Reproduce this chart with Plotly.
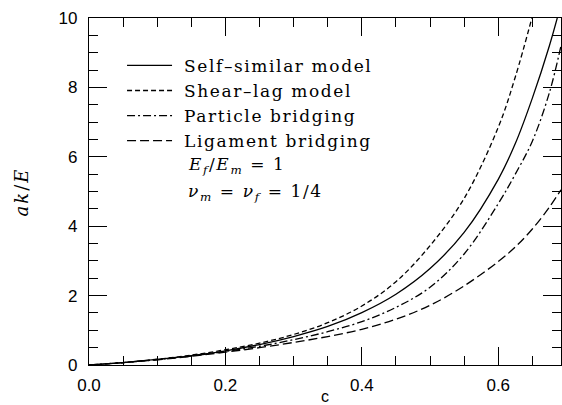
import plotly.graph_objects as go

c = [0, 0.05, 0.1, 0.15, 0.2, 0.25, 0.3, 0.35, 0.4, 0.45, 0.5, 0.55, 0.6, 0.625, 0.65, 0.675, 0.692]
self_similar = [0, 0.07, 0.16, 0.27, 0.41, 0.59, 0.82, 1.11, 1.51, 2.04, 2.78, 3.82, 5.35, 6.38, 7.69, 9.2, 10.4]
c_shear = [0, 0.05, 0.1, 0.15, 0.2, 0.25, 0.3, 0.35, 0.4, 0.45, 0.5, 0.55, 0.6, 0.625, 0.65]
shear_lag = [0, 0.07, 0.165, 0.285, 0.44, 0.63, 0.88, 1.22, 1.70, 2.40, 3.44, 4.80, 6.85, 8.3, 10.05]
particle = [0, 0.07, 0.155, 0.26, 0.39, 0.54, 0.73, 0.96, 1.25, 1.66, 2.24, 3.2, 4.65, 5.5, 6.45, 7.85, 9.2]
ligament = [0, 0.07, 0.15, 0.25, 0.37, 0.50, 0.65, 0.82, 1.03, 1.32, 1.72, 2.28, 2.98, 3.4, 3.92, 4.55, 5.05]

names = ["Self\u2013similar model", "Shear\u2013lag model", "Particle bridging", "Ligament bridging"]
LS = "letter-spacing:1.6px"

def spaced(t, ls=LS):
    return '<span style="%s">%s</span>' % (ls, t)

fig = go.Figure()
fig.add_trace(go.Scatter(x=c, y=self_similar, mode="lines", name=spaced("\u00a0" + names[0]),
                         line=dict(color="black", width=1.3, shape="spline")))
fig.add_trace(go.Scatter(x=c_shear, y=shear_lag, mode="lines", name=spaced("\u00a0" + names[1]),
                         line=dict(color="black", width=1.3, dash="5px,3px", shape="spline")))
fig.add_trace(go.Scatter(x=c, y=particle, mode="lines", name=spaced("\u00a0" + names[2]),
                         line=dict(color="black", width=1.3, dash="8px,3px,2px,3px", shape="spline")))
fig.add_trace(go.Scatter(x=c, y=ligament, mode="lines", name=spaced("\u00a0" + names[3]),
                         line=dict(color="black", width=1.3, dash="9px,4px", shape="spline")))

serif = "DejaVu Serif"
sans = "Liberation Sans"

fig.update_layout(
    width=562, height=405,
    margin=dict(l=89, r=1, t=18, b=40),
    paper_bgcolor="white", plot_bgcolor="white",
    showlegend=True,
    legend=dict(x=0.07, y=0.914, xanchor="left", yanchor="top",
                bgcolor="rgba(0,0,0,0)", font=dict(family=serif, size=17, color="black"),
                itemwidth=45, tracegroupgap=0),
    annotations=[
        dict(x=0.205, y=0.576, xref="paper", yref="paper", xanchor="left", yanchor="middle",
             showarrow=False,
             text=spaced("<i>E<sub>f</sub></i>/<i>E<sub>m</sub></i>&nbsp;=&nbsp;1"),
             font=dict(family=serif, size=17, color="black")),
        dict(x=0.205, y=0.496, xref="paper", yref="paper", xanchor="left", yanchor="middle",
             showarrow=False,
             text=spaced("<i>\u03bd<sub>m</sub></i>&nbsp;=&nbsp;<i>\u03bd<sub>f</sub></i>&nbsp;=&nbsp;1/4"),
             font=dict(family=serif, size=17, color="black")),
        dict(x=-0.142, y=0.5, xref="paper", yref="paper", xanchor="center", yanchor="middle",
             showarrow=False, textangle=-90,
             text=spaced("<i>ak</i>/<i>E</i>", "letter-spacing:2px"),
             font=dict(family=serif, size=18, color="black")),
    ],
)

fig.update_xaxes(
    range=[0, 0.692], showgrid=False, zeroline=False, automargin=False,
    showline=True, linecolor="black", linewidth=1.2, mirror="allticks",
    ticks="inside", ticklen=18, tickwidth=1, tickcolor="black",
    tick0=0, dtick=0.2, tickformat=".1f", ticklabelstandoff=4,
    minor=dict(ticks="inside", ticklen=9, tickwidth=1, tickcolor="black", dtick=0.05, showgrid=False),
    tickfont=dict(family=sans, size=17, color="black"),
    title=dict(text="c", font=dict(family=sans, size=16, color="black"), standoff=8),
)
fig.update_yaxes(
    range=[0, 10], showgrid=False, zeroline=False, automargin=False,
    showline=True, linecolor="black", linewidth=1.2, mirror="allticks",
    ticks="inside", ticklen=18, tickwidth=1, tickcolor="black",
    tick0=0, dtick=2,
    minor=dict(ticks="inside", ticklen=9, tickwidth=1, tickcolor="black", dtick=0.5, showgrid=False),
    tickfont=dict(family=sans, size=17, color="black"), ticklabelstandoff=7,
)

fig.write_html("out.html", config={"displayModeBar": False},
               post_script="document.body.style.margin='0';document.body.style.overflow='hidden';")
